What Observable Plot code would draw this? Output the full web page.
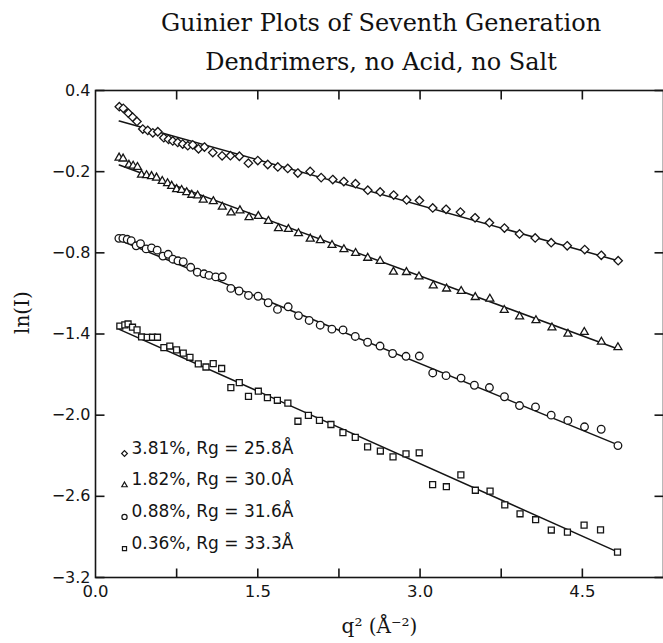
<!DOCTYPE html>
<html><head><meta charset="utf-8">
<script src="https://cdn.jsdelivr.net/npm/d3@7"></script>
<script src="https://cdn.jsdelivr.net/npm/@observablehq/plot@0.6"></script>
<style>
body{margin:0;background:#fff;overflow:hidden}
#wrap{position:relative;width:663px;height:643px;overflow:hidden}
.t{position:absolute;left:0;width:762px;text-align:center;font-family:"DejaVu Serif";font-size:24px;line-height:24px;color:#111;white-space:nowrap}
#chart{position:absolute;left:0;top:80px}
</style></head><body>
<div id="wrap">
<div class="t" style="top:11px">Guinier Plots of Seventh Generation</div>
<div class="t" style="top:50px">Dendrimers, no Acid, no Salt</div>
<div id="chart"></div>
</div>
<script>
// Series labels (legend) and symbols
const seriesLabels = ["3.81%, Rg = 25.8Å", "1.82%, Rg = 30.0Å", "0.88%, Rg = 31.6Å", "0.36%, Rg = 33.3Å"];
const seriesSymbols = ["diamond2", "triangle2", "circle", "square2"];

// 3.81%
const x1 = [0.220,0.257,0.304,0.343,0.383,0.437,0.483,0.530,0.576,0.631,0.675,0.714,0.760,0.806,0.853,0.899,0.952,1.007,1.084,1.170,1.247,1.330,1.413,1.500,1.592,1.685,1.777,1.870,1.984,2.086,2.193,2.295,2.403,2.517,2.631,2.756,2.876,2.994,3.117,3.240,3.373,3.508,3.641,3.780,3.919,4.064,4.212,4.360,4.522,4.675,4.831];
const y1 = [0.280,0.268,0.232,0.203,0.171,0.115,0.105,0.087,0.095,0.051,0.039,0.027,0.016,0.004,-0.008,-0.002,-0.031,-0.018,-0.059,-0.083,-0.082,-0.086,-0.137,-0.118,-0.147,-0.165,-0.176,-0.210,-0.198,-0.244,-0.258,-0.273,-0.289,-0.337,-0.350,-0.373,-0.409,-0.413,-0.468,-0.478,-0.499,-0.541,-0.577,-0.617,-0.660,-0.690,-0.725,-0.748,-0.776,-0.818,-0.858];
// 1.82%
const x2 = [0.218,0.255,0.309,0.348,0.388,0.425,0.472,0.518,0.564,0.617,0.666,0.704,0.750,0.796,0.843,0.890,0.944,0.996,1.089,1.172,1.253,1.335,1.419,1.505,1.598,1.691,1.783,1.876,1.985,2.078,2.186,2.296,2.404,2.516,2.631,2.754,2.874,2.990,3.122,3.245,3.380,3.510,3.645,3.778,3.920,4.071,4.219,4.367,4.518,4.676,4.829];
const y2 = [-0.097,-0.104,-0.150,-0.157,-0.166,-0.223,-0.227,-0.234,-0.245,-0.270,-0.286,-0.306,-0.330,-0.336,-0.353,-0.372,-0.377,-0.408,-0.419,-0.460,-0.503,-0.487,-0.538,-0.529,-0.565,-0.619,-0.625,-0.656,-0.696,-0.707,-0.743,-0.774,-0.802,-0.838,-0.861,-0.941,-0.943,-0.976,-1.042,-1.065,-1.083,-1.128,-1.140,-1.223,-1.271,-1.299,-1.353,-1.399,-1.386,-1.458,-1.499];
// 0.88%
const x3 = [0.216,0.253,0.293,0.330,0.376,0.416,0.468,0.518,0.570,0.623,0.672,0.715,0.762,0.811,0.880,0.941,1.003,1.049,1.111,1.172,1.251,1.327,1.414,1.503,1.596,1.682,1.781,1.876,1.975,2.077,2.185,2.288,2.401,2.515,2.630,2.746,2.870,2.993,3.117,3.240,3.379,3.502,3.641,3.780,3.919,4.067,4.212,4.366,4.520,4.674,4.829];
const y3 = [-0.693,-0.693,-0.700,-0.710,-0.748,-0.733,-0.771,-0.763,-0.780,-0.824,-0.811,-0.847,-0.859,-0.866,-0.907,-0.943,-0.955,-0.967,-0.978,-0.977,-1.063,-1.082,-1.115,-1.121,-1.169,-1.218,-1.199,-1.264,-1.300,-1.335,-1.364,-1.370,-1.418,-1.461,-1.489,-1.544,-1.565,-1.563,-1.688,-1.708,-1.726,-1.779,-1.796,-1.864,-1.929,-1.939,-2.000,-2.039,-2.086,-2.104,-2.225];
// 0.36%
const x4 = [0.225,0.271,0.301,0.342,0.384,0.426,0.478,0.527,0.573,0.632,0.687,0.749,0.811,0.873,0.950,1.021,1.088,1.166,1.251,1.329,1.414,1.505,1.589,1.681,1.778,1.871,1.968,2.070,2.176,2.287,2.401,2.515,2.633,2.750,2.870,2.992,3.116,3.243,3.377,3.511,3.647,3.783,3.924,4.068,4.213,4.362,4.516,4.668,4.825];
const y4 = [-1.341,-1.333,-1.326,-1.350,-1.369,-1.422,-1.425,-1.424,-1.424,-1.501,-1.489,-1.517,-1.541,-1.572,-1.621,-1.644,-1.619,-1.655,-1.797,-1.759,-1.861,-1.823,-1.871,-1.890,-1.911,-2.045,-2.002,-2.038,-2.069,-2.129,-2.164,-2.235,-2.265,-2.308,-2.286,-2.278,-2.513,-2.529,-2.441,-2.555,-2.561,-2.663,-2.729,-2.773,-2.849,-2.864,-2.813,-2.848,-3.012];

// Fitted Guinier lines (start/end)
const fitX0 = [0.22, 0.22, 0.22, 0.22];
const fitY0 = [0.174, -0.151, -0.706, -1.366];
const fitX1 = [4.83, 4.83, 4.83, 4.83];
const fitY1 = [-0.858, -1.511, -2.220, -3.012];

// Axis ticks
const xLabelTicks = [0, 1.5, 3.0, 4.5];
const xMinorTicks = [0.75, 1.5, 2.25, 3.0, 3.75, 4.5];
const yTicks = [0.4, -0.2, -0.8, -1.4, -2.0, -2.6, -3.2];
const xDomain = [0, 5.25], yDomain = [-3.2, 0.4];

const xs = [x1, x2, x3, x4], ys = [y1, y2, y3, y4];
const INK = "#151515";
const SANS = "DejaVu Sans", SERIF = "DejaVu Serif";
const W = 663, H = 563, MT = 10, MB = 66, ML = 95, MR = 0;
const PH = H - MT - MB, PW = W - ML - MR;
const TICK = 9; // px, inward
const tyLen = TICK * (yDomain[1] - yDomain[0]) / PH;
const txLen = TICK * (xDomain[1] - xDomain[0]) / PW;
const fmt = d3.format(".1f");

// inward tick segments on all four sides
const xTickSegs = xMinorTicks.flatMap(v => [
  {x1: v, x2: v, y1: yDomain[0], y2: yDomain[0] + tyLen},
  {x1: v, x2: v, y1: yDomain[1], y2: yDomain[1] - tyLen}
]);
const yTickSegs = yTicks.flatMap(v => [
  {x1: xDomain[0], x2: xDomain[0] + txLen, y1: v, y2: v},
  {x1: xDomain[1], x2: xDomain[1] - txLen, y1: v, y2: v}
]);

const marks = [];
marks.push(Plot.frame({stroke: INK, strokeWidth: 1.6, fill: "none"}));
marks.push(Plot.link(xTickSegs.concat(yTickSegs), {x1: "x1", x2: "x2", y1: "y1", y2: "y2", stroke: INK, strokeWidth: 1.6}));
// tick labels
marks.push(Plot.text(xLabelTicks, {x: d => d, frameAnchor: "bottom", dy: 19, text: d => fmt(d), fontSize: 16.5, fontFamily: SANS, fill: INK}));
marks.push(Plot.text(yTicks, {y: d => d, frameAnchor: "left", dx: -5, textAnchor: "end", text: d => fmt(d), fontSize: 16, fontFamily: SANS, fill: INK}));
// axis titles
marks.push(Plot.text(["q² (Å⁻²)"], {frameAnchor: "bottom", dy: 55, text: d => d, fontSize: 20, fontFamily: SERIF, fill: INK}));
marks.push(Plot.text(["ln(I)"], {frameAnchor: "left", dx: -73, rotate: -90, text: d => d, fontSize: 20, fontFamily: SERIF, fill: INK}));

for (let i = 0; i < 4; i++) {
  const fit = [{x: fitX0[i], y: fitY0[i]}, {x: fitX1[i], y: fitY1[i]}];
  marks.push(Plot.line(fit, {x: "x", y: "y", stroke: INK, strokeWidth: 1.5}));
  const pts = xs[i].map((x, j) => ({x, y: ys[i][j]}));
  marks.push(Plot.dot(pts, {x: "x", y: "y", symbol: seriesSymbols[i], r: 3.8, stroke: INK, strokeWidth: 1.3, fill: "white"}));
  // legend
  const dy = -124 + 31.7 * i;
  marks.push(Plot.dot([seriesLabels[i]], {frameAnchor: "bottom-left", dx: 29, dy, symbol: seriesSymbols[i], r: 2.6, stroke: INK, strokeWidth: 1.2, fill: "white"}));
  marks.push(Plot.text([seriesLabels[i]], {frameAnchor: "bottom-left", dx: 36, dy, textAnchor: "start", text: d => d, fontSize: 17, fontFamily: SANS, fill: INK}));
}

const chart = Plot.plot({
  width: W, height: H,
  marginLeft: ML, marginRight: MR, marginTop: MT, marginBottom: MB,
  x: {domain: xDomain, axis: null},
  y: {domain: yDomain, axis: null},
  style: {background: "white", color: INK, overflow: "visible"},
  marks
});
document.getElementById("chart").appendChild(chart);
</script>
</body></html>
